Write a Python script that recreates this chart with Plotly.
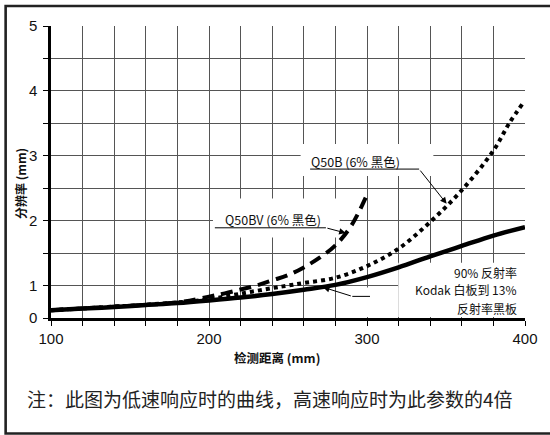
import plotly.graph_objects as go

# ---------------- data ----------------
distance = [100, 120, 140, 160, 180, 200, 220, 240, 260, 280, 300, 320, 340, 360, 380, 400]
kodak_90_13 = [0.24, 0.29, 0.34, 0.40, 0.46, 0.54, 0.63, 0.74, 0.87, 1.01, 1.13, 1.28, 1.45, 1.61, 1.77, 1.90]

q50bv_distance = [100, 140, 180, 200, 210, 220, 230, 240, 250, 260, 270, 280, 290, 300]
q50bv_6_black = [0.24, 0.35, 0.48, 0.66, 0.76, 0.88, 1.00, 1.08, 1.16, 1.28, 1.43, 1.62, 1.92, 2.40]

q50b_distance = [100, 140, 180, 200, 220, 240, 250, 260, 280, 300, 320, 340, 360, 380, 390, 399]
q50b_6_black = [0.24, 0.35, 0.48, 0.58, 0.75, 0.92, 1.00, 1.04, 1.12, 1.30, 1.57, 1.98, 2.47, 3.08, 3.50, 3.82]

y_tick_labels = ["0", "1", "2", "3", "4", "5"]
x_tick_labels = ["100", "200", "300", "400"]
kodak_label_lines = ["90% 反射率", "Kodak 白板到 13%", "反射率黑板"]


# The chart's vertical axis is compressed between 0 and 1 (half spacing).
def axis_pos(v):
    return 0.5 + v / 2.0 if v <= 1 else v


def tr(values):
    return [axis_pos(v) for v in values]


CJK = "Noto Sans CJK SC"
LAT = "Liberation Sans Narrow, Liberation Sans, Noto Sans CJK SC"

fig = go.Figure()

fig.add_trace(go.Scatter(
    x=q50b_distance, y=tr(q50b_6_black), mode="lines", line_shape="spline",
    line=dict(color="black", width=4, dash="4px,4px"), showlegend=False))
fig.add_trace(go.Scatter(
    x=q50bv_distance, y=tr(q50bv_6_black), mode="lines", line_shape="spline",
    line=dict(color="black", width=4, dash="12px,7px"), showlegend=False))
fig.add_trace(go.Scatter(
    x=distance, y=tr(kodak_90_13), mode="lines", line_shape="spline",
    line=dict(color="black", width=4.5), showlegend=False))

shapes = []
# white boxes behind labels (cover gridlines)
for (x0, x1, y0, y1) in [
    (202.5, 282.7, 1.74, 2.34),
    (258.0, 342.0, 2.69, 3.18),
    (319.8, 400.0, 0.515, 1.35),
    (287.7, 319.8, 0.515, 0.97),
]:
    shapes.append(dict(type="rect", xref="x", yref="y", x0=x0, x1=x1, y0=y0, y1=y1,
                       fillcolor="white", line=dict(width=0), layer="between"))
# underline leaders
shapes.append(dict(type="line", xref="x", yref="y", x0=203.7, x1=274.0, y0=1.89, y1=1.89,
                   line=dict(color="black", width=1)))
shapes.append(dict(type="line", xref="x", yref="y", x0=264.0, x1=333.0, y0=2.795, y1=2.795,
                   line=dict(color="black", width=1)))
shapes.append(dict(type="line", xref="x", yref="y", x0=290.7, x1=301.9, y0=0.833, y1=0.833,
                   line=dict(color="black", width=1)))
# outer frame (right side runs off the canvas, as in the reference)
shapes.append(dict(type="rect", xref="paper", yref="paper", x0=-0.0957, x1=1.06,
                   y0=-0.3955, y1=1.0685, line=dict(color="#222", width=2.6),
                   fillcolor="rgba(0,0,0,0)", layer="above"))

annotations = [
    dict(x=240.5, y=2.02, xref="x", yref="y", text="Q50BV (6% 黑色)", showarrow=False,
         xanchor="center", yanchor="middle",
         font=dict(family=CJK, size=12.5, color="#111")),
    dict(x=292.6, y=2.91, xref="x", yref="y", text="Q50B (6% 黑色)", showarrow=False,
         xanchor="center", yanchor="middle",
         font=dict(family=CJK, size=12.5, color="#111")),
    # arrows
    dict(x=286.5, y=1.81, ax=274.0, ay=1.89, xref="x", yref="y", axref="x", ayref="y",
         text="", showarrow=True, arrowhead=2, arrowsize=1.3, arrowwidth=1, arrowcolor="black"),
    dict(x=350.4, y=2.26, ax=333.0, ay=2.795, xref="x", yref="y", axref="x", ayref="y",
         text="", showarrow=True, arrowhead=2, arrowsize=1.3, arrowwidth=1, arrowcolor="black"),
    dict(x=272.2, y=0.974, ax=290.7, ay=0.833, xref="x", yref="y", axref="x", ayref="y",
         text="", showarrow=True, arrowhead=2, arrowsize=1.3, arrowwidth=1, arrowcolor="black"),
    # axis titles
    dict(x=-0.0658, y=0.462, xref="paper", yref="paper", text="<b>分辨率 (mm)</b>",
         xanchor="center", yanchor="middle",
         textangle=-90, showarrow=False, font=dict(family=CJK, size=12, color="#111")),
    dict(x=0.476, y=-0.1336, xref="paper", yref="paper", text="<b>检测距离 (mm)</b>",
         xanchor="center", yanchor="middle",
         showarrow=False, font=dict(family=CJK, size=12.5, color="#111")),
    # note
    dict(x=0.462, y=-0.274, xref="paper", yref="paper",
         text="注：此图为低速响应时的曲线，高速响应时为此参数的4倍",
         xanchor="center", yanchor="middle",
         showarrow=False, font=dict(family=CJK, size=19, color="#222")),
]
# Kodak label, one annotation per line (right aligned)
for line_text, ypaper in zip(kodak_label_lines, [0.1575, 0.0959, 0.0342]):
    annotations.append(dict(x=396.5, y=ypaper, xref="x", yref="paper", xanchor="right",
                            yanchor="middle", text=line_text, showarrow=False,
                            font=dict(family=CJK, size=12, color="#111")))

tick_font = dict(family=LAT, size=15, color="#111")

fig.update_layout(
    width=550, height=435,
    margin=dict(l=51, r=13, t=26, b=117),
    plot_bgcolor="white", paper_bgcolor="white",
    shapes=shapes, annotations=annotations,
    xaxis=dict(
        range=[100, 400], tickvals=[100, 200, 300, 400], ticktext=x_tick_labels,
        ticks="outside", ticklen=5, tickwidth=1.2, tickcolor="black",
        showline=True, linewidth=2.5, linecolor="black",
        showgrid=True, gridcolor="#555", gridwidth=1.1, zeroline=False,
        tickfont=tick_font,
        minor=dict(tickvals=list(range(120, 400, 20)), ticks="outside", ticklen=5,
                   tickwidth=1.2, tickcolor="black", showgrid=True,
                   gridcolor="#555", gridwidth=1.1),
    ),
    yaxis=dict(
        range=[0.5, 5], tickvals=[0.5, 1, 2, 3, 4, 5], ticktext=y_tick_labels,
        ticks="outside", ticklen=5, tickwidth=1.2, tickcolor="black",
        showline=True, linewidth=2.5, linecolor="black",
        showgrid=True, gridcolor="#555", gridwidth=1.1, zeroline=False,
        tickfont=tick_font, ticklabelstandoff=3,
        minor=dict(tickvals=[1.5, 2.5, 3.5, 4.5], ticks="outside", ticklen=5,
                   tickwidth=1.2, tickcolor="black", showgrid=True,
                   gridcolor="#555", gridwidth=1.1),
    ),
)

fig.write_html("out.html", config={"displayModeBar": False},
               post_script="document.body.style.margin='0';")
